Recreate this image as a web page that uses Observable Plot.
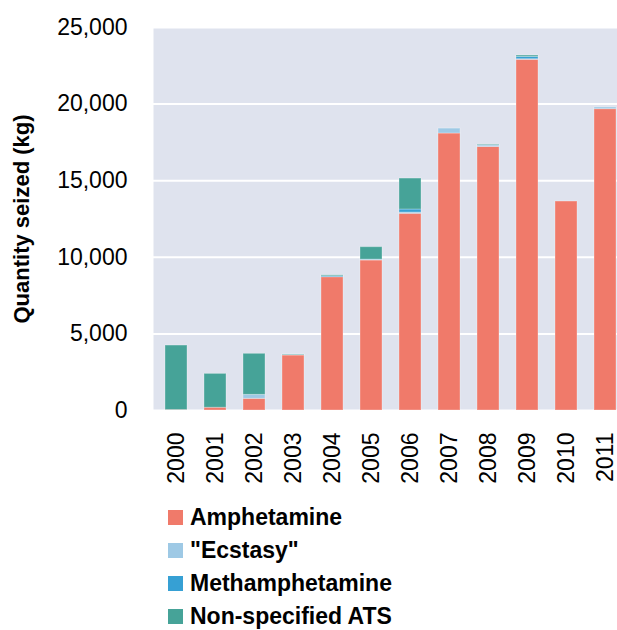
<!DOCTYPE html>
<html>
<head>
<meta charset="utf-8">
<script src="https://cdn.jsdelivr.net/npm/d3@7"></script>
<script src="https://cdn.jsdelivr.net/npm/@observablehq/plot@0.6"></script>
<style>
  html, body { margin: 0; padding: 0; background: #fff; overflow: hidden; width: 617px; }
  #chart svg { display: block; }
  g[aria-label="y-axis label"] text { font-weight: bold; font-size: 22px; }
  .legend { margin: 0; padding: 11px 0 0 168px; font-family: "Liberation Sans", Arial, sans-serif; font-weight: bold; font-size: 23px; color: #000; }
  .legend .row { display: flex; align-items: center; height: 33px; }
  .legend .sw { width: 15px; height: 15px; margin-right: 7px; flex: none; }
</style>
</head>
<body>
<div id="chart"></div>
<div class="legend" id="legend"></div>
<script>
const years = ["2000","2001","2002","2003","2004","2005","2006","2007","2008","2009","2010","2011"];
const series = ["Amphetamine", "\"Ecstasy\"", "Methamphetamine", "Non-specified ATS"];
const colors = ["#f07a6a", "#9ec9e5", "#36a0d4", "#46a398"];
const amphetamine     = [30, 180, 760, 3590, 8700, 9790, 12840, 18080, 17200, 22890, 13640, 19670];
const ecstasy         = [0, 0, 260, 30, 0, 60, 80, 320, 100, 40, 0, 110];
const methamphetamine = [0, 0, 0, 0, 60, 0, 200, 0, 0, 150, 0, 0];
const nonSpecified    = [4210, 2210, 2680, 35, 60, 810, 2020, 0, 40, 90, 0, 0];
const yTicks = [0, 5000, 10000, 15000, 20000, 25000];

const valuesBySeries = [amphetamine, ecstasy, methamphetamine, nonSpecified];
const data = [];
years.forEach((year, i) => {
  series.forEach((s, j) => data.push({year, drug: s, value: valuesBySeries[j][i]}));
});

const plot = Plot.plot({
  width: 640,
  height: 490,
  marginTop: 27,
  marginBottom: 80,
  marginLeft: 153,
  marginRight: 12,
  style: {fontFamily: "Liberation Sans, Arial, sans-serif", maxWidth: "none", background: "#fff", overflow: "visible"},
  x: {domain: years, paddingInner: 0.44, paddingOuter: 0.22},
  y: {domain: [0, 25000]},
  color: {domain: series, range: colors},
  marks: [
    Plot.frame({fill: "#dfe3ee", stroke: null}),
    Plot.gridY(yTicks, {stroke: "#fff", strokeOpacity: 1, strokeWidth: 2}),
    Plot.barY(data, {x: "year", y: "value", fill: "drug", stroke: "#ffffff", strokeOpacity: 0.3, strokeWidth: 1}),
    Plot.axisY(yTicks, {tickSize: 0, tickPadding: 26, fontSize: 23, tickFormat: d3.format(","), label: "Quantity seized (kg)", labelAnchor: "center", labelOffset: 140, labelArrow: "none"}),
    Plot.axisX({tickSize: 0, tickPadding: 22, tickRotate: -90, fontSize: 23, label: null})
  ]
});
document.getElementById("chart").appendChild(plot);

const legend = document.getElementById("legend");
series.forEach((s, j) => {
  const row = document.createElement("div");
  row.className = "row";
  const sw = document.createElement("span");
  sw.className = "sw";
  sw.style.background = colors[j];
  const t = document.createElement("span");
  t.textContent = s;
  row.appendChild(sw);
  row.appendChild(t);
  legend.appendChild(row);
});
</script>
</body>
</html>
